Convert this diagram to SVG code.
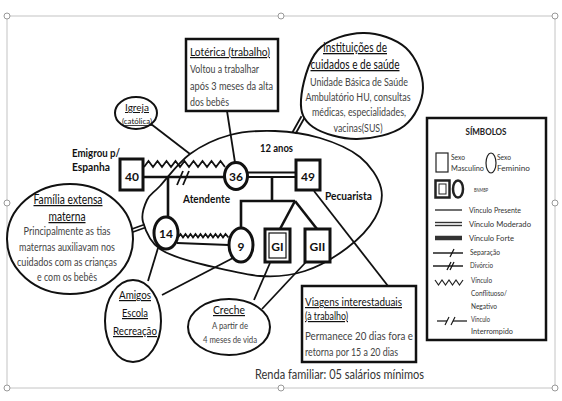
<svg xmlns="http://www.w3.org/2000/svg" width="562" height="401" viewBox="0 0 562 401">
<style>
text{font-family:Lato,"Liberation Sans","DejaVu Sans",sans-serif}
.ttl{font-size:12px;fill:#111;text-decoration:underline}
.bd{font-size:11px;fill:#444}
.lbl{font-size:12px;font-weight:bold;fill:#111}
.lg{font-size:7.5px;fill:#333}
.ln{stroke:#111;fill:none;stroke-width:1.8}
.thk{stroke:#111;fill:none;stroke-width:2.6}
.nd{stroke:#111;fill:#fff;stroke-width:3}
.ext{stroke:#111;fill:#fff;stroke-width:2}
.hd{fill:#fff;stroke:#999;stroke-width:1}
.mid{text-anchor:middle}
</style>
<rect width="562" height="401" fill="#fff"/>
<g id="frame">
<rect x="7" y="16" width="548" height="372" fill="none" stroke="#c4c4c4" stroke-width="1"/>
<circle class="hd" cx="7" cy="16" r="3"/><circle class="hd" cx="281" cy="16" r="3"/><circle class="hd" cx="555" cy="16" r="3"/>
<circle class="hd" cx="555" cy="203" r="3"/><circle class="hd" cx="555" cy="388" r="3"/><circle class="hd" cx="281" cy="388" r="3"/>
<circle class="hd" cx="7" cy="388" r="3"/><circle class="hd" cx="7" cy="203" r="3"/>
</g>
<g id="connectors">
<path id="boundary" class="ln" d="M160,186 C167.2,178.3 178.3,162.5 190,154 C201.7,145.5 215.8,138.8 230,135 C244.2,131.2 260,130.5 275,131 C290,131.5 305.8,133.7 320,138 C334.2,142.3 349.8,148.7 360,157 C370.2,165.3 378.5,177.8 381,188 C383.5,198.2 380.7,208 375,218 C369.3,228 358.7,239.2 347,248 C335.3,256.8 319.5,266.3 305,271 C290.5,275.7 276.7,277.3 260,276 C243.3,274.7 221.7,269 205,265 C188.3,261 170.3,256 160,249 C149.7,242 145.2,229.7 143,222 C140.8,214.3 144.2,206 147,200 C149.8,194 152.8,193.7 160,186 Z"/>
<line class="thk" x1="143" y1="177" x2="225" y2="177" stroke-width="3"/>
<polyline class="ln" stroke-width="1.6" points="144,167 148.5,161 153,167 157.5,161 162,167 166.5,161 171,167 175.5,161 180,167 184.5,161 189,167 193.5,161 198,167 202.5,161 207,167 211.5,161 216,167 220.5,161 225,167"/>
<line class="ln" x1="177" y1="185" x2="183" y2="171"/>
<line class="ln" x1="183" y1="185" x2="189" y2="171"/>
<line class="thk" x1="168" y1="177" x2="168" y2="217"/>
<polyline class="ln" stroke-width="1.4" points="178,237.5 180.5,234 183,237.5 185.5,234 188,237.5 190.5,234 193,237.5 195.5,234 198,237.5 200.5,234 203,237.5 205.5,234 208,237.5 210.5,234 213,237.5 215.5,234 218,237.5 220.5,234 223,237.5 225.5,234 228.5,237.5"/>
<line class="ln" x1="177" y1="243" x2="229" y2="245"/>
<line class="ln" stroke-width="1.6" x1="247" y1="172.5" x2="296" y2="172.5"/>
<line class="ln" stroke-width="1.6" x1="247" y1="177" x2="296" y2="177"/>
<polyline class="thk" points="272,177 272,201"/>
<polyline class="thk" points="241,228.5 241,201 295,201"/>
<line class="thk" x1="295" y1="201" x2="280" y2="229"/>
<line class="thk" x1="295" y1="201" x2="317" y2="229"/>
<line class="ln" x1="227" y1="111" x2="235" y2="162.5"/>
<line class="ln" x1="151" y1="124" x2="190" y2="154"/>
<line class="ln" stroke-width="1.4" x1="304.5" y1="117.8" x2="295.5" y2="133.8"/>
<line class="ln" stroke-width="1.4" x1="301.5" y1="116.2" x2="292.5" y2="132.2"/>
<line class="ln" stroke-width="1.4" x1="131.5" y1="232.5" x2="145.5" y2="227.5"/>
<line class="ln" stroke-width="1.4" x1="130.5" y1="229.5" x2="144.5" y2="224.5"/>
<line class="ln" x1="158" y1="248" x2="148" y2="281"/>
<line class="ln" x1="233" y1="258" x2="162" y2="295"/>
<line class="ln" x1="270" y1="263" x2="254" y2="300"/>
<line class="ln" x1="306" y1="262" x2="262" y2="309"/>
<line class="ln" x1="314" y1="191" x2="388" y2="286"/>
</g>
<g id="n40"><rect class="nd" x="120" y="159" width="23" height="31"/><text class="lbl mid" x="132" y="181">40</text></g>
<g id="n36"><ellipse class="nd" cx="236" cy="176" rx="11.5" ry="13.5"/><text class="lbl mid" x="236" y="181">36</text></g>
<g id="n49"><rect class="nd" x="296" y="160" width="24" height="30"/><text class="lbl mid" x="308" y="181">49</text></g>
<g id="n14"><ellipse class="nd" cx="166" cy="233" rx="12" ry="16"/><text class="lbl mid" x="166" y="238">14</text></g>
<g id="n9"><ellipse class="nd" cx="241" cy="245" rx="12" ry="17"/><text class="lbl mid" x="241" y="251">9</text></g>
<g id="nGI"><rect class="nd" x="265" y="229" width="25" height="33"/><rect x="269" y="233" width="17" height="25" fill="none" stroke="#111" stroke-width="1.2"/><text class="lbl mid" x="277.5" y="251">GI</text></g>
<g id="nGII"><rect class="nd" x="305" y="229" width="25" height="33"/><text class="lbl mid" x="317.5" y="251">GII</text></g>
<g id="labels">
<text class="lbl" x="72" y="157" textLength="48" lengthAdjust="spacingAndGlyphs">Emigrou p/</text>
<text class="lbl" x="72" y="171" textLength="38" lengthAdjust="spacingAndGlyphs">Espanha</text>
<text class="lbl" x="260" y="152" textLength="33" lengthAdjust="spacingAndGlyphs">12 anos</text>
<text class="lbl" x="183" y="203" textLength="47" lengthAdjust="spacingAndGlyphs">Atendente</text>
<text class="lbl" x="325" y="200" textLength="47" lengthAdjust="spacingAndGlyphs">Pecuarista</text>
</g>
<g id="loterica">
<rect x="186" y="39" width="92" height="72" fill="#fff" stroke="#111" stroke-width="2.5"/>
<text class="ttl" x="190" y="56" textLength="80" lengthAdjust="spacingAndGlyphs">Lotérica (trabalho)</text>
<text class="bd" x="190" y="73" textLength="69" lengthAdjust="spacingAndGlyphs">Voltou a trabalhar</text>
<text class="bd" x="190" y="90" textLength="83" lengthAdjust="spacingAndGlyphs">após 3 meses da alta</text>
<text class="bd" x="190" y="106" textLength="39" lengthAdjust="spacingAndGlyphs">dos bebês</text>
</g>
<g id="igreja">
<ellipse class="ext" cx="136" cy="113" rx="21" ry="16"/>
<text class="ttl mid" x="137" y="111" style="font-size:10px" textLength="24" lengthAdjust="spacingAndGlyphs">Igreja</text>
<text class="ttl mid" x="137" y="124" style="font-size:8px" textLength="30" lengthAdjust="spacingAndGlyphs">(católica)</text>
</g>
<g id="instituicoes">
<path class="ext" d="M363,33 C377.7,32.7 396,38.8 406,48 C416,57.2 423.3,75 423,88 C422.7,101 415,117.5 404,126 C393,134.5 372.2,138.8 357,139 C341.8,139.2 322.3,133.5 313,127 C303.7,120.5 300.2,112.8 301,100 C301.8,87.2 307.7,61.2 318,50 C328.3,38.8 348.3,33.3 363,33 Z"/>
<text class="ttl mid" x="355" y="52" style="font-size:13px" textLength="64" lengthAdjust="spacingAndGlyphs">Instituições de</text>
<text class="ttl mid" x="355" y="69" style="font-size:13px" textLength="89" lengthAdjust="spacingAndGlyphs">cuidados e de saúde</text>
<text class="bd mid" x="359" y="86" textLength="98" lengthAdjust="spacingAndGlyphs">Unidade Básica de Saúde</text>
<text class="bd mid" x="358" y="101" textLength="105" lengthAdjust="spacingAndGlyphs">Ambulatório HU, consultas</text>
<text class="bd mid" x="359" y="116" textLength="94" lengthAdjust="spacingAndGlyphs">médicas, especialidades,</text>
<text class="bd mid" x="358" y="132" textLength="49" lengthAdjust="spacingAndGlyphs">vacinas(SUS)</text>
</g>
<g id="familia">
<ellipse class="ext" cx="70" cy="239" rx="63" ry="55"/>
<text class="ttl mid" x="68" y="204" style="font-size:12.5px" textLength="69" lengthAdjust="spacingAndGlyphs">Família extensa</text>
<text class="ttl mid" x="67" y="221" style="font-size:12.5px" textLength="37" lengthAdjust="spacingAndGlyphs">materna</text>
<text class="bd mid" x="67" y="234.5" textLength="87" lengthAdjust="spacingAndGlyphs">Principalmente as tias</text>
<text class="bd mid" x="67" y="250.5" textLength="96" lengthAdjust="spacingAndGlyphs">maternas auxiliavam nos</text>
<text class="bd mid" x="67" y="266" textLength="100" lengthAdjust="spacingAndGlyphs">cuidados com as crianças</text>
<text class="bd mid" x="67" y="281" textLength="60" lengthAdjust="spacingAndGlyphs">e com os bebês</text>
</g>
<g id="amigos">
<ellipse class="ext" cx="133" cy="321" rx="28" ry="41"/>
<text class="ttl mid" x="135" y="299" textLength="32" lengthAdjust="spacingAndGlyphs">Amigos</text>
<text class="ttl mid" x="135" y="317" textLength="26" lengthAdjust="spacingAndGlyphs">Escola</text>
<text class="ttl mid" x="135" y="335" textLength="44" lengthAdjust="spacingAndGlyphs">Recreação</text>
</g>
<g id="creche">
<ellipse class="ext" cx="229" cy="327" rx="41" ry="28"/>
<text class="ttl mid" x="229" y="314" textLength="32" lengthAdjust="spacingAndGlyphs">Creche</text>
<text class="bd mid" x="230" y="329" style="font-size:9.5px" textLength="36" lengthAdjust="spacingAndGlyphs">A partir de</text>
<text class="bd mid" x="230" y="343" style="font-size:9.5px" textLength="54" lengthAdjust="spacingAndGlyphs">4 meses de vida</text>
</g>
<g id="viagens">
<rect x="302" y="286" width="114" height="76" fill="#fff" stroke="#111" stroke-width="2.5"/>
<text class="ttl" x="305" y="306" textLength="97" lengthAdjust="spacingAndGlyphs">Viagens interestaduais</text>
<text class="ttl" x="305" y="320" textLength="43" lengthAdjust="spacingAndGlyphs">(à trabalho)</text>
<text class="bd" x="305" y="340" textLength="108" lengthAdjust="spacingAndGlyphs">Permanece 20 dias fora e</text>
<text class="bd" x="305" y="355.5" textLength="93" lengthAdjust="spacingAndGlyphs">retorna por 15 a 20 dias</text>
</g>
<g id="renda">
<text x="255" y="379" style="font-size:14px;fill:#333" textLength="169" lengthAdjust="spacingAndGlyphs">Renda familiar: 05 salários mínimos</text>
</g>
<g id="legend">
<rect x="427" y="118" width="119" height="222" fill="#fff" stroke="#111" stroke-width="2.5"/>
<text class="mid" x="486" y="135" style="font-size:9px;font-weight:bold;fill:#222" textLength="41" lengthAdjust="spacingAndGlyphs">SÍMBOLOS</text>
<rect x="436" y="153" width="12" height="19" fill="none" stroke="#222" stroke-width="1.2"/>
<text class="lg" x="451" y="159.5" style="font-size:7px" textLength="14" lengthAdjust="spacingAndGlyphs">Sexo</text>
<text class="lg" x="451" y="171" style="font-size:7px" textLength="33" lengthAdjust="spacingAndGlyphs">Masculino</text>
<ellipse cx="491" cy="163" rx="5" ry="10" fill="none" stroke="#222" stroke-width="1.2"/>
<text class="lg" x="497" y="159.5" style="font-size:7px" textLength="14" lengthAdjust="spacingAndGlyphs">Sexo</text>
<text class="lg" x="497" y="171" style="font-size:7px" textLength="33" lengthAdjust="spacingAndGlyphs">Feminino</text>
<rect x="435.5" y="180.5" width="14" height="17" fill="none" stroke="#222" stroke-width="2.5"/>
<rect x="439" y="184" width="7" height="10" fill="none" stroke="#222" stroke-width="1"/>
<ellipse cx="458" cy="189" rx="5" ry="8.5" fill="none" stroke="#222" stroke-width="2.5"/>
<text class="lg" x="474" y="191.5" style="font-size:6px" textLength="14" lengthAdjust="spacingAndGlyphs">BNMBP</text>
<line x1="435" y1="210" x2="462" y2="210" stroke="#222" stroke-width="1.3"/>
<text class="lg" x="469" y="213" textLength="52" lengthAdjust="spacingAndGlyphs">Vínculo Presente</text>
<line x1="435" y1="222.5" x2="462" y2="222.5" stroke="#333" stroke-width="1.4"/>
<line x1="435" y1="225.5" x2="462" y2="225.5" stroke="#333" stroke-width="1.4"/>
<text class="lg" x="469" y="227" textLength="62" lengthAdjust="spacingAndGlyphs">Vínculo Moderado</text>
<line x1="435" y1="238" x2="462" y2="238" stroke="#333" stroke-width="4.5"/>
<text class="lg" x="469" y="241" textLength="45" lengthAdjust="spacingAndGlyphs">Vínculo Forte</text>
<line x1="433" y1="253" x2="463" y2="253" stroke="#111" stroke-width="1.4"/>
<line x1="450" y1="257" x2="454" y2="249" stroke="#111" stroke-width="1.2"/>
<text class="lg" x="470" y="255" textLength="30" lengthAdjust="spacingAndGlyphs">Separação</text>
<line x1="433" y1="266" x2="463" y2="266" stroke="#111" stroke-width="1.4"/>
<line x1="447" y1="270" x2="451" y2="262" stroke="#111" stroke-width="1.2"/>
<line x1="450" y1="270" x2="454" y2="262" stroke="#111" stroke-width="1.2"/>
<text class="lg" x="470" y="268" textLength="23" lengthAdjust="spacingAndGlyphs">Divórcio</text>
<polyline points="435,280 438.5,285 442,280 445.5,285 449,280 452.5,285 456,280 459.5,285 463,280" fill="none" stroke="#222" stroke-width="1.2"/>
<text class="lg" x="471" y="283" textLength="21" lengthAdjust="spacingAndGlyphs">Vínculo</text>
<text class="lg" x="471" y="296" textLength="36" lengthAdjust="spacingAndGlyphs">Conflituoso/</text>
<text class="lg" x="471" y="309" textLength="26" lengthAdjust="spacingAndGlyphs">Negativo</text>
<line x1="437" y1="321" x2="447" y2="321" stroke="#111" stroke-width="1.2"/>
<line x1="445" y1="325" x2="449" y2="317" stroke="#111" stroke-width="1.1"/>
<line x1="451" y1="325" x2="455" y2="317" stroke="#111" stroke-width="1.1"/>
<line x1="453" y1="321" x2="467" y2="321" stroke="#111" stroke-width="1.2"/>
<text class="lg" x="471" y="322" textLength="19" lengthAdjust="spacingAndGlyphs">Vínculo</text>
<text class="lg" x="471" y="334" textLength="42" lengthAdjust="spacingAndGlyphs">Interrompido</text>
</g>
</svg>
